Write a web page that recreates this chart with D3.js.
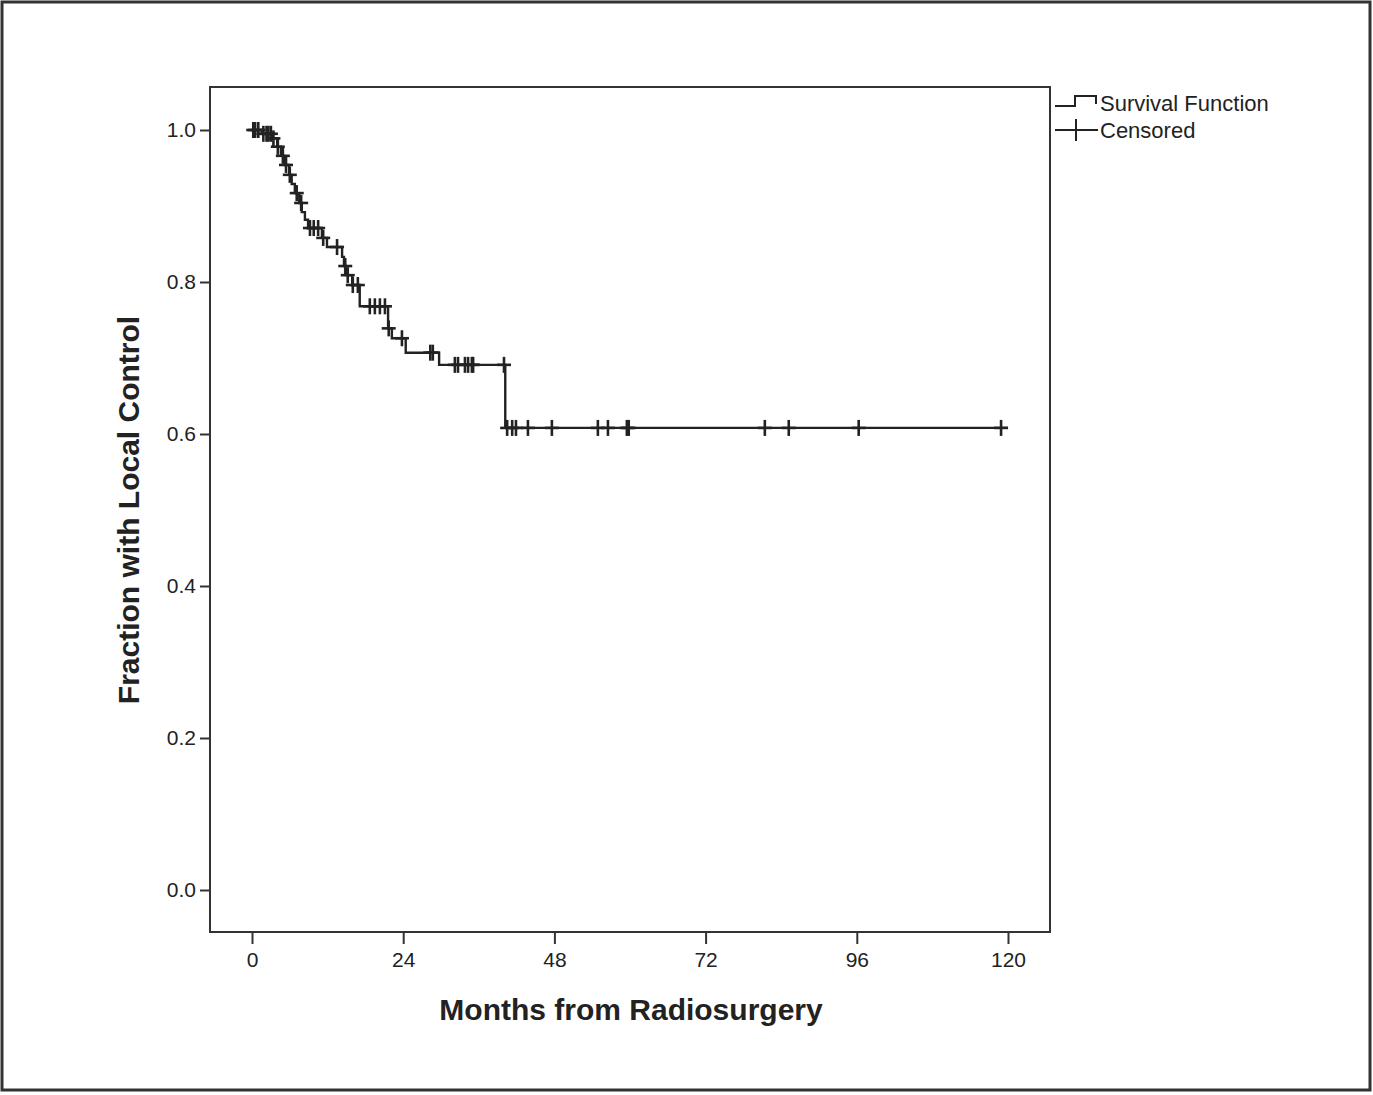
<!DOCTYPE html>
<html>
<head>
<meta charset="utf-8">
<script src="https://cdn.jsdelivr.net/npm/d3@7"></script>
<style>
  body { margin: 0; background: #fff; }
  svg { display: block; }
  text { font-family: "Liberation Sans", Arial, sans-serif; fill: #222; }
</style>
</head>
<body>
<svg id="chart"></svg>
<script>
// step times (months) and survival after each step
const eventTimes = [1.6, 3.2, 4.0, 4.6, 5.2, 5.9, 6.3, 6.8, 7.5, 7.9, 8.4, 8.9,
  11.1, 11.9, 14.3, 14.6, 14.9, 15.9, 17.1, 21.6, 22.2, 24.4, 29.7, 40.2];
const survival = [0.995, 0.989, 0.978, 0.966, 0.954, 0.941, 0.929, 0.917, 0.904, 0.892, 0.882, 0.871,
  0.858, 0.846, 0.833, 0.821, 0.809, 0.796, 0.768, 0.739, 0.726, 0.707, 0.691, 0.608];
// censored follow-up times (months)
const censorTimes = [0.2, 0.5, 1.0, 1.8, 2.3, 2.6, 3.0, 3.4, 4.1, 4.9, 5.4, 6.0, 7.1, 7.8,
  9.2, 9.8, 10.5, 11.3, 13.5, 14.8, 15.2, 16.0, 16.8, 18.7, 19.5, 20.3, 21.1, 21.7,
  23.8, 28.3, 28.7, 32.2, 32.7, 33.8, 34.3, 34.9, 35.1, 40.0, 40.5, 41.3, 41.9, 43.8,
  47.6, 54.9, 56.5, 59.5, 59.8, 81.4, 85.2, 96.3, 118.9];
const lastTime = 120;
const xTicks = [0, 24, 48, 72, 96, 120];
const yTicks = [0.0, 0.2, 0.4, 0.6, 0.8, 1.0];

const W = 1373, H = 1095;
const frame = {left: 210, right: 1050, top: 87, bottom: 932};

const svg = d3.select('#chart').attr('width', W).attr('height', H);

// outer border
svg.append('rect')
  .attr('x', 2).attr('y', 2).attr('width', 1368).attr('height', 1088)
  .attr('fill', 'none').attr('stroke', '#333').attr('stroke-width', 3);

const x = d3.scaleLinear().domain([0, 120]).range([252, 1008]);
const y = d3.scaleLinear().domain([0, 1]).range([890, 130]);

// plot frame
svg.append('rect')
  .attr('x', frame.left).attr('y', frame.top)
  .attr('width', frame.right - frame.left).attr('height', frame.bottom - frame.top)
  .attr('fill', 'none').attr('stroke', '#333').attr('stroke-width', 2);

// axes
const xAxis = d3.axisBottom(x).tickValues(xTicks).tickSize(12).tickPadding(8).tickFormat(d3.format('d'));
const yAxis = d3.axisLeft(y).tickValues(yTicks).tickSize(10).tickPadding(4).tickFormat(d3.format('.1f'));

const gx = svg.append('g').attr('transform', `translate(0,${frame.bottom})`).call(xAxis);
const gy = svg.append('g').attr('transform', `translate(${frame.left},0)`).call(yAxis);
[gx, gy].forEach(g => {
  g.select('.domain').remove();
  g.selectAll('line').attr('stroke', '#333').attr('stroke-width', 2);
  g.selectAll('text').style('font-size', '21px').attr('fill', '#222');
});

// step line
const pts = [[0, 1]];
eventTimes.forEach((t, i) => pts.push([t, survival[i]]));
pts.push([lastTime, survival[survival.length - 1]]);
const line = d3.line().x(d => x(d[0])).y(d => y(d[1])).curve(d3.curveStepAfter);
svg.append('path')
  .attr('d', line(pts))
  .attr('fill', 'none').attr('stroke', '#222').attr('stroke-width', 2.4);

const survAt = t => {
  let s = 1;
  eventTimes.forEach((e, i) => { if (e <= t) s = survival[i]; });
  return s;
};

// censored marks
const marks = svg.append('g').attr('stroke', '#222').attr('stroke-width', 2.6);
censorTimes.forEach(t => {
  const cx = x(t), cy = y(survAt(t));
  marks.append('line').attr('x1', cx - 7).attr('x2', cx + 7).attr('y1', cy).attr('y2', cy);
  marks.append('line').attr('x1', cx).attr('x2', cx).attr('y1', cy - 8).attr('y2', cy + 8);
});

// axis titles
svg.append('text')
  .attr('x', 631).attr('y', 1020).attr('text-anchor', 'middle')
  .style('font-size', '30px').style('font-weight', 'bold')
  .text('Months from Radiosurgery');
svg.append('text')
  .attr('transform', 'translate(139,510) rotate(-90)').attr('text-anchor', 'middle')
  .style('font-size', '30px').style('font-weight', 'bold')
  .text('Fraction with Local Control');

// legend
const lg = svg.append('g');
lg.append('path')
  .attr('d', 'M1055,106 H1075 V96 H1096 V104')
  .attr('fill', 'none').attr('stroke', '#222').attr('stroke-width', 2);
lg.append('line').attr('x1', 1055).attr('x2', 1098).attr('y1', 130).attr('y2', 130)
  .attr('stroke', '#222').attr('stroke-width', 2);
lg.append('line').attr('x1', 1076).attr('x2', 1076).attr('y1', 119).attr('y2', 141)
  .attr('stroke', '#222').attr('stroke-width', 2);
lg.append('text').attr('x', 1100).attr('y', 111).style('font-size', '22px').text('Survival Function');
lg.append('text').attr('x', 1100).attr('y', 138).style('font-size', '22px').text('Censored');
</script>
</body>
</html>
